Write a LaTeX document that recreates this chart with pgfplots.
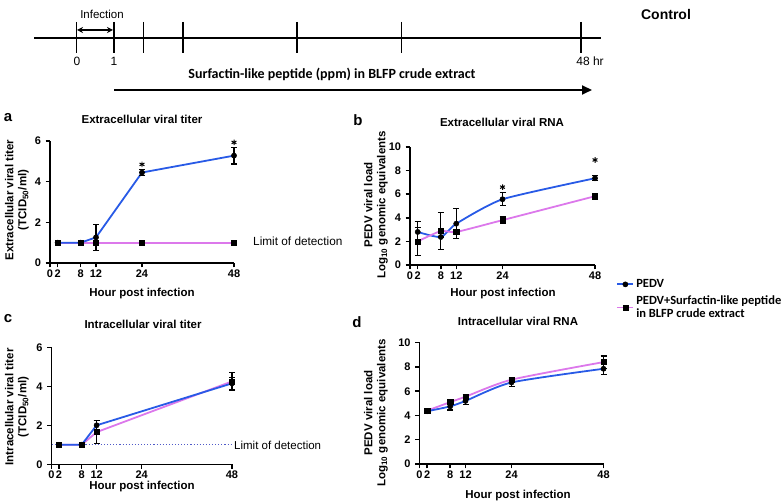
\documentclass[border=0pt]{standalone}
\usepackage{fontspec}
\setmainfont{Liberation Sans}
\newfontfamily\calfont{Carlito}
\usepackage{pgfplots}
\pgfplotsset{compat=1.18}
\usetikzlibrary{arrows.meta}
\definecolor{pblue}{RGB}{40,90,230}
\definecolor{ppink}{RGB}{220,120,235}
\definecolor{ldot}{RGB}{80,90,200}
\newcommand{\tf}{\fontsize{11bp}{12bp}\selectfont\bfseries}
\newcommand{\lf}{\fontsize{11.5bp}{13bp}\selectfont\bfseries}
\pgfplotsset{
 panel/.style={
  scale only axis, axis lines=left, axis line style={-, line width=1.5pt},
  xmin=0, xmax=48, ymin=0, xtick={0,2,8,12,24,48},
  tick align=outside, tick style={line width=1.5pt, black}, major tick length=4.5bp,
  ticklabel style={font=\tf}, /pgf/number format/assume math mode=true,
  xticklabel style={yshift=1bp}, yticklabel style={xshift=-1bp},
  clip=false,
 },
 eb/.style={error bars/y dir=both, error bars/y explicit,
   error bars/error bar style={black, line width=1.1pt},
   error bars/error mark options={rotate=90, black, line width=1.1pt, mark size=3bp}},
 bl/.style={color=pblue, line width=1.8pt, mark=*, mark size=2.6bp, mark options={black, fill=black, solid, line width=0.5pt}, eb},
 pk/.style={color=ppink, line width=1.8pt, mark=square*, mark size=2.6bp, mark options={black, fill=black, solid, line width=0.5pt}, eb},
 st/.style={only marks, mark=asterisk, mark size=2.8bp, mark options={black, line width=1pt}},
}
\begin{document}
\begin{tikzpicture}[x=1bp,y=1bp]
\useasboundingbox (0,0) rectangle (784,503);
% timeline
\draw[line width=1.8pt] (34,465) -- (601,465);
\foreach \xx in {76.5,114,143.5,183,297,401.5,581} \draw[line width=1.8pt] (\xx,481) -- (\xx,450);
\node[font=\fontsize{12bp}{13bp}\selectfont, inner sep=0] at (77,442) {0};
\node[font=\fontsize{12bp}{13bp}\selectfont, inner sep=0] at (114,442) {1};
\node[font=\fontsize{12bp}{13bp}\selectfont, inner sep=0] at (590,442) {48 hr};
\node[font=\fontsize{11.5bp}{13bp}\selectfont, inner sep=0] at (102,489) {Infection};
\draw[line width=1.8pt, {Stealth[length=6bp,width=6bp]}-{Stealth[length=6bp,width=6bp]}] (77,473) -- (113,473);
\node[font=\calfont\bfseries\fontsize{14bp}{15bp}\selectfont, inner sep=0] at (332,429) {Surfactin-like peptide (ppm) in BLFP crude extract};
\draw[line width=1.8pt, -{Triangle[length=10bp,width=9bp]}] (114,413) -- (592,413);
\node[font=\fontsize{14bp}{16bp}\selectfont\bfseries, inner sep=0] at (666,488) {Control};

% panel a
\begin{axis}[panel, at={(50bp,240bp)}, anchor=south west, width=184bp, height=122bp,
  ymax=6, ytick={0,2,4,6}]
\addplot[pk] coordinates {(2,1) (8,1) (12,1) (24,1) (48,1)};
\addplot[bl] coordinates {(2,1) +- (0,0) (8,1) +- (0,0) (12,1.26) +- (0,0.65) (24,4.45) +- (0,0.15) (48,5.28) +- (0,0.41)};
\addplot[st] coordinates {(24,4.85) (48,5.93)};
\end{axis}
\node[font=\fontsize{15bp}{16bp}\selectfont\bfseries, inner sep=0] at (8,385) {a};
\node[font=\lf, inner sep=0] at (142,384) {Extracellular viral titer};
\node[font=\lf, inner sep=0, rotate=90, align=center] at (17,303) {Extracellular viral titer\\(TCID\textsubscript{50}/ml)};
\node[font=\lf, inner sep=0] at (142,209) {Hour post infection};
\node[font=\fontsize{11.8bp}{13bp}\selectfont, inner sep=0, anchor=west] at (253,262) {Limit of detection};

% panel b
\begin{axis}[panel, at={(410bp,238bp)}, anchor=south west, width=185bp, height=118bp,
  ymax=10, ytick={0,2,4,6,8,10},
  legend image code/.code={\draw[mark repeat=2,mark phase=2] plot coordinates {(0bp,0bp) (8bp,0bp) (16bp,0bp)};},
  legend style={at={(rel axis cs:1.115,-0.105)}, anchor=north west, draw=none, fill=none,
    font=\calfont\bfseries\fontsize{12.5bp}{12.5bp}\selectfont, cells={anchor=west, align=left}, row sep=3bp, inner sep=0pt}]
\addplot[bl, smooth, tension=0.35] coordinates {(2,2.8) +- (0,0.9) (8,2.37) +- (0,0) (12,3.5) +- (0,1.25) (24,5.57) +- (0,0.55) (48,7.35) +- (0,0.2)};
\addlegendentry{PEDV}
\addplot[pk, smooth, tension=0.35] coordinates {(2,2.0) +- (0,1.2) (8,2.88) +- (0,1.6) (12,2.8) +- (0,0) (24,3.8) +- (0,0.3) (48,5.83) +- (0,0.25)};
\addlegendentry{PEDV+Surfactin-like peptide\\in BLFP crude extract}
\addplot[st, forget plot] coordinates {(24,6.6) (48,8.9)};
\end{axis}
\node[font=\fontsize{15bp}{16bp}\selectfont\bfseries, inner sep=0] at (358,383) {b};
\node[font=\lf, inner sep=0] at (502,381) {Extracellular viral RNA};
\node[font=\lf, inner sep=0, rotate=90, align=center] at (376,298) {PEDV viral load\\Log\textsubscript{10} genomic equivalents};
\node[font=\lf, inner sep=0] at (503,209) {Hour post infection};

% panel c
\begin{axis}[panel, at={(51.5bp,38.7bp)}, anchor=south west, width=180.5bp, height=117bp,
  ymax=6, ytick={0,2,4,6}]
\addplot[color=ldot, dotted, line width=1.1pt] coordinates {(0,1) (48,1)};
\addplot[pk] coordinates {(2,1) +- (0,0) (8,1) +- (0,0) (12,1.65) +- (0,0.58) (48,4.25) +- (0,0.45)};
\addplot[bl] coordinates {(2,1) +- (0,0) (8,1) +- (0,0) (12,2.0) +- (0,0.25) (48,4.15) +- (0,0.3)};
\end{axis}
\node[font=\fontsize{15bp}{16bp}\selectfont\bfseries, inner sep=0] at (8,184) {c};
\node[font=\lf, inner sep=0] at (143,179) {Intracellular viral titer};
\node[font=\lf, inner sep=0, rotate=90, align=center] at (17,96) {Intracellular viral titer\\(TCID\textsubscript{50}/ml)};
\node[font=\lf, inner sep=0] at (142,16) {Hour post infection};
\node[font=\fontsize{11.5bp}{13bp}\selectfont, inner sep=0, anchor=west] at (234,58) {Limit of detection};

% panel d
\begin{axis}[panel, at={(419.5bp,39bp)}, anchor=south west, width=184bp, height=121.3bp,
  ymax=10, ytick={0,2,4,6,8,10}]
\addplot[pk, smooth, tension=0.4] coordinates {(2,4.4) +- (0,0.1) (8,5.1) +- (0,0.15) (12,5.55) +- (0,0.15) (24,6.95) +- (0,0.15) (48,8.4) +- (0,0.5)};
\addplot[bl, smooth, tension=0.4] coordinates {(2,4.35) +- (0,0.1) (8,4.75) +- (0,0.3) (12,5.2) +- (0,0.3) (24,6.72) +- (0,0.3) (48,7.85) +- (0,0.45)};
\end{axis}
\node[font=\fontsize{15bp}{16bp}\selectfont\bfseries, inner sep=0] at (357,181) {d};
\node[font=\lf, inner sep=0] at (518,182) {Intracellular viral RNA};
\node[font=\lf, inner sep=0, rotate=90, align=center] at (376,90) {PEDV viral load\\Log\textsubscript{10} genomic equivalents};
\node[font=\lf, inner sep=0] at (518,7) {Hour post infection};
\end{tikzpicture}
\end{document}
